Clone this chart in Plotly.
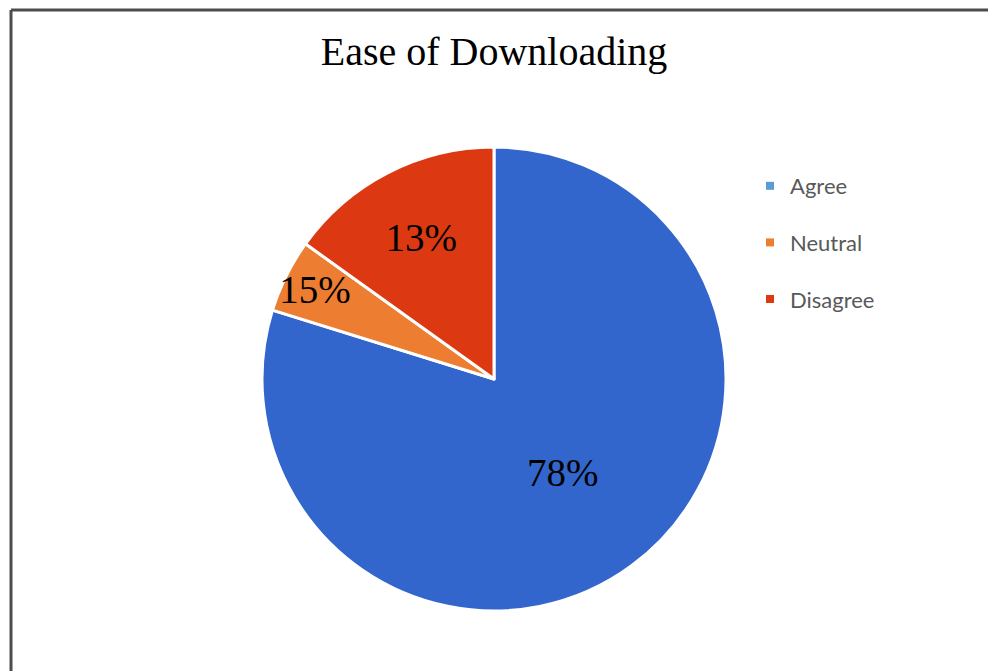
import plotly.graph_objects as go

categories = ["Agree", "Neutral", "Disagree"]
slice_values = [79.8, 5.1, 15.1]
label_texts = ["78%", "15%", "13%"]
slice_colors = ["#3366CC", "#ED7D31", "#DC3912"]
legend_colors = ["#5B9BD5", "#ED7D31", "#DC3912"]

W, H = 988, 671

fig = go.Figure()
fig.add_trace(go.Pie(
    labels=categories,
    values=slice_values,
    text=label_texts,
    textinfo="text",
    textposition="inside",
    insidetextorientation="horizontal",
    textfont=dict(family="Liberation Serif", size=39, color="black"),
    marker=dict(colors=slice_colors, line=dict(color="white", width=3)),
    sort=False,
    direction="clockwise",
    rotation=0,
    showlegend=False,
    domain=dict(x=[262 / W, 726 / W], y=[(H - 611) / H, (H - 147) / H]),
    hoverinfo="label+text",
))

for cat, col in zip(categories, legend_colors):
    fig.add_trace(go.Scatter(
        x=[None], y=[None], mode="markers", name=cat, legendgroup=cat,
        marker=dict(symbol="square", size=8, color=col),
    ))

fig.update_layout(
    width=W, height=H,
    margin=dict(l=0, r=0, t=0, b=0),
    paper_bgcolor="white", plot_bgcolor="white",
    xaxis=dict(visible=False), yaxis=dict(visible=False),
    uniformtext=dict(minsize=39, mode="show"),
    title=dict(text="Ease of Downloading", x=0.5, xanchor="center",
               y=1 - 51 / H, yanchor="middle",
               font=dict(family="Liberation Serif", size=40, color="black")),
    legend=dict(x=750 / W, y=1 - 165 / H, xanchor="left", yanchor="top",
                font=dict(family="Lato", size=22, color="#595959"),
                tracegroupgap=25, bgcolor="rgba(0,0,0,0)"),
    shapes=[
        dict(type="line", xref="paper", yref="paper", x0=11 / W, x1=11 / W,
             y0=0, y1=1 - 10 / H, line=dict(color="#4d4d4d", width=3)),
        dict(type="line", xref="paper", yref="paper", x0=11 / W, x1=1,
             y0=1 - 10 / H, y1=1 - 10 / H, line=dict(color="#4d4d4d", width=3)),
    ],
)

fig.write_html("out.html")
